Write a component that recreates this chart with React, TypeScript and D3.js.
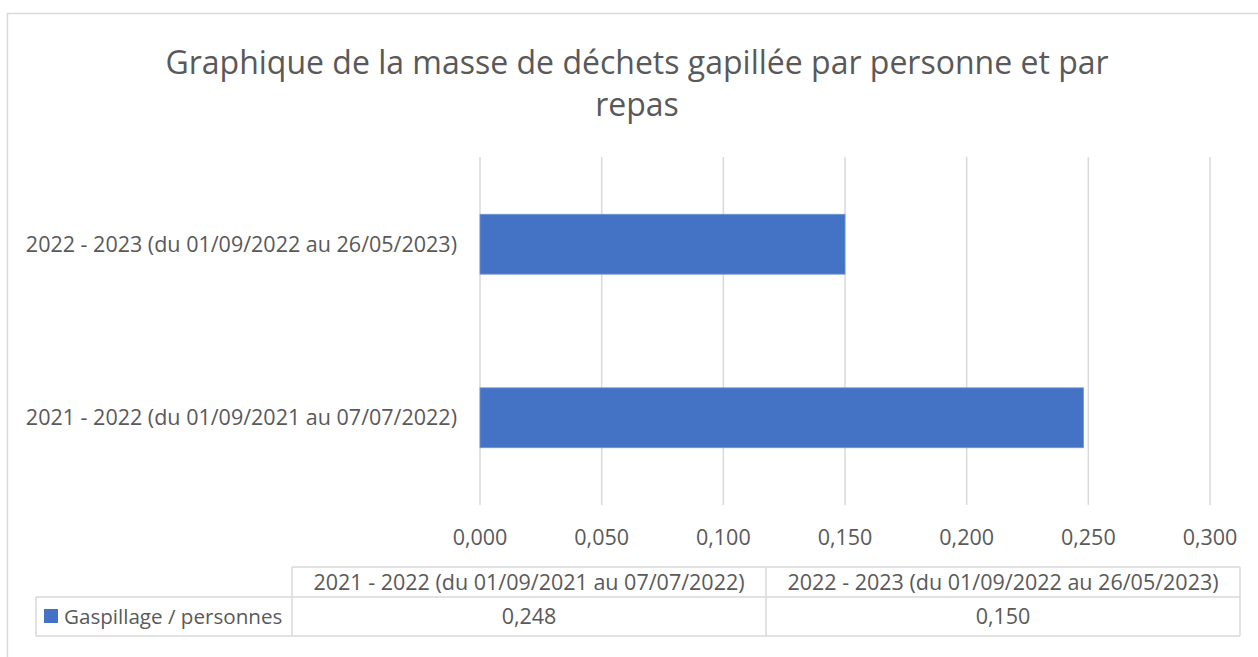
import React from "react";
import * as d3 from "d3";

const categories = [
  "2021 - 2022 (du 01/09/2021 au 07/07/2022)",
  "2022 - 2023 (du 01/09/2022 au 26/05/2023)",
];
const seriesName = "Gaspillage / personnes";
const values = [0.248, 0.15];
const ticks = [0, 0.05, 0.1, 0.15, 0.2, 0.25, 0.3];
const titleLines = [
  "Graphique de la masse de déchets gapillée par personne et par",
  "repas",
];

const W = 1258;
const H = 657;
const FONT = "'Open Sans', sans-serif";
const TEXT = "#595959";
const GRID = "#d9d9d9";
const BAR = "#4472c4";
const FS = 21.5;

const fmt = (v: number, d: number) => v.toFixed(d).replace(".", ",");

const App: React.FC = () => {
  const plot = { left: 480, right: 1210, top: 157, bottom: 505 };

  const x = d3.scaleLinear().domain([0, 0.3]).range([plot.left, plot.right]);
  // first category at the bottom, like Excel's horizontal bars
  const y = d3
    .scaleBand<string>()
    .domain([...categories].reverse())
    .range([plot.top, plot.bottom])
    .paddingInner(0.655)
    .paddingOuter(0.33);

  // data table columns
  const table = { legendLeft: 36, left: 292, right: 1240, top: 567, mid: 597, bottom: 636 };
  const col = d3
    .scaleBand<string>()
    .domain(categories)
    .range([table.left, table.right]);

  return (
    <svg
      width={W}
      height={H}
      style={{ position: "absolute", left: 0, top: 0, background: "#fff" }}
      fontFamily={FONT}
    >
      {/* chart border */}
      <rect x={7.5} y={13.5} width={W} height={H} fill="#fff" stroke={GRID} strokeWidth={1.5} />

      {/* title */}
      {titleLines.map((t, i) => (
        <text
          key={i}
          x={637}
          y={74 + i * 42}
          textAnchor="middle"
          fontSize={32}
          fill={TEXT}
        >
          {t}
        </text>
      ))}

      {/* gridlines */}
      {ticks.map((t) => (
        <line
          key={t}
          x1={x(t)}
          x2={x(t)}
          y1={plot.top}
          y2={plot.bottom}
          stroke={GRID}
          strokeWidth={1.5}
        />
      ))}

      {/* bars */}
      {categories.map((c, i) => (
        <rect
          key={c}
          x={x(0)}
          y={y(c)}
          width={x(values[i]) - x(0)}
          height={y.bandwidth()}
          fill={BAR}
          stroke="#6f93d3"
          strokeWidth={0.8}
        />
      ))}

      {/* category labels */}
      {categories.map((c) => (
        <text
          key={c}
          x={457}
          y={(y(c) ?? 0) + y.bandwidth() / 2}
          dy="0.35em"
          textAnchor="end"
          fontSize={FS}
          fill={TEXT}
        >
          {c}
        </text>
      ))}

      {/* x tick labels */}
      {ticks.map((t) => (
        <text
          key={t}
          x={x(t)}
          y={537}
          dy="0.35em"
          textAnchor="middle"
          fontSize={FS}
          fill={TEXT}
        >
          {fmt(t, 3)}
        </text>
      ))}

      {/* data table */}
      <g stroke={GRID} strokeWidth={1.5} fill="none">
        <line x1={table.left} x2={table.right} y1={table.top} y2={table.top} />
        <line x1={table.legendLeft} x2={table.right} y1={table.mid} y2={table.mid} />
        <line x1={table.legendLeft} x2={table.right} y1={table.bottom} y2={table.bottom} />
        <line x1={table.legendLeft} x2={table.legendLeft} y1={table.mid} y2={table.bottom} />
        <line x1={table.left} x2={table.left} y1={table.top} y2={table.bottom} />
        {categories.map((c) => (
          <line
            key={c}
            x1={(col(c) ?? 0) + col.bandwidth()}
            x2={(col(c) ?? 0) + col.bandwidth()}
            y1={table.top}
            y2={table.bottom}
          />
        ))}
      </g>
      {categories.map((c, i) => (
        <g key={c}>
          <text
            x={(col(c) ?? 0) + col.bandwidth() / 2}
            y={(table.top + table.mid) / 2}
            dy="0.35em"
            textAnchor="middle"
            fontSize={FS}
            fill={TEXT}
          >
            {c}
          </text>
          <text
            x={(col(c) ?? 0) + col.bandwidth() / 2}
            y={(table.mid + table.bottom) / 2}
            dy="0.35em"
            textAnchor="middle"
            fontSize={FS}
            fill={TEXT}
          >
            {fmt(values[i], 3)}
          </text>
        </g>
      ))}
      <rect x={44} y={609} width={14} height={14} fill={BAR} />
      <text x={64} y={(table.mid + table.bottom) / 2} dy="0.35em" fontSize={20.6} fill={TEXT}>
        {seriesName}
      </text>
    </svg>
  );
};

export default App;
